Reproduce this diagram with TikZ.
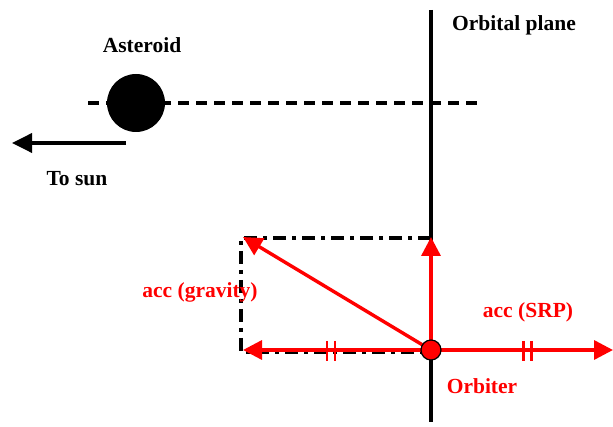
\documentclass[tikz,border=0pt]{standalone}
\usepackage{fontspec}
\setmainfont{Liberation Serif}
\usetikzlibrary{arrows.meta}
\begin{document}
\begin{tikzpicture}[x=1pt,y=-1pt,
  lbl/.style={font=\fontsize{21.5}{24}\selectfont\bfseries},
  redlbl/.style={lbl,text=red},
  redvec/.style={red,line width=3.4pt,-{Triangle[length=19pt,width=19pt]}},
  blk/.style={black,line width=3.6pt},
  tick/.style={red,line width=2.8pt}]
\useasboundingbox (0,0) rectangle (613,427);
% orbital plane
\coordinate (pt) at (431,10);
\coordinate (pb) at (431,422);
\draw[blk] (pt) -- (pb);
% asteroid axis
\coordinate (dl) at (88,103);
\coordinate (dr) at (480,103);
\draw[blk,dash pattern=on 11pt off 7pt] (dl) -- (dr);
\node[circle,fill=black,minimum size=58pt,inner sep=0pt] (ast) at (136,103) {};
\node[lbl] (astl) at (142,45) {Asteroid};
\node[lbl] (opl) at (514,25) {Orbital plane};
% to sun
\coordinate (s1) at (126,143);
\coordinate (s2) at (12,143);
\draw[blk,-{Triangle[length=20pt,width=19pt]}] (s1) -- (s2);
\node[lbl] (sunl) at (77,179) {To sun};
% dash-dot rectangle
\coordinate (r1) at (241,238);
\coordinate (r2) at (431,238);
\coordinate (r3) at (241,352);
\coordinate (r4) at (431,352);
\draw[blk,dash pattern=on 13pt off 6pt on 4pt off 6pt] (r2) -- (r1) -- (r3) -- (r4);
% orbiter
\coordinate (o) at (431,350);
\coordinate (vr) at (613,350);
\coordinate (vl) at (243,350);
\coordinate (vu) at (431,237);
\coordinate (vd) at (243,237);
\draw[redvec] (o) -- (vr);
\draw[redvec] (o) -- (vl);
\draw[redvec] (o) -- (vu);
\draw[redvec] (o) -- (vd);
\node[circle,fill=red,draw=black,line width=1.2pt,minimum size=20pt,inner sep=0pt] (orb) at (o) {};
% ticks
\draw[tick] (327,341) -- (327,361) (335,341) -- (335,361);
\draw[tick] (523.5,341) -- (523.5,361) (531.5,341) -- (531.5,361);
\node[redlbl] (gl) at (200,292) {acc (gravity)};
\node[redlbl] (srpl) at (528,312) {acc (SRP)};
\node[redlbl] (orbl) at (482,386) {Orbiter};
\end{tikzpicture}
\end{document}
